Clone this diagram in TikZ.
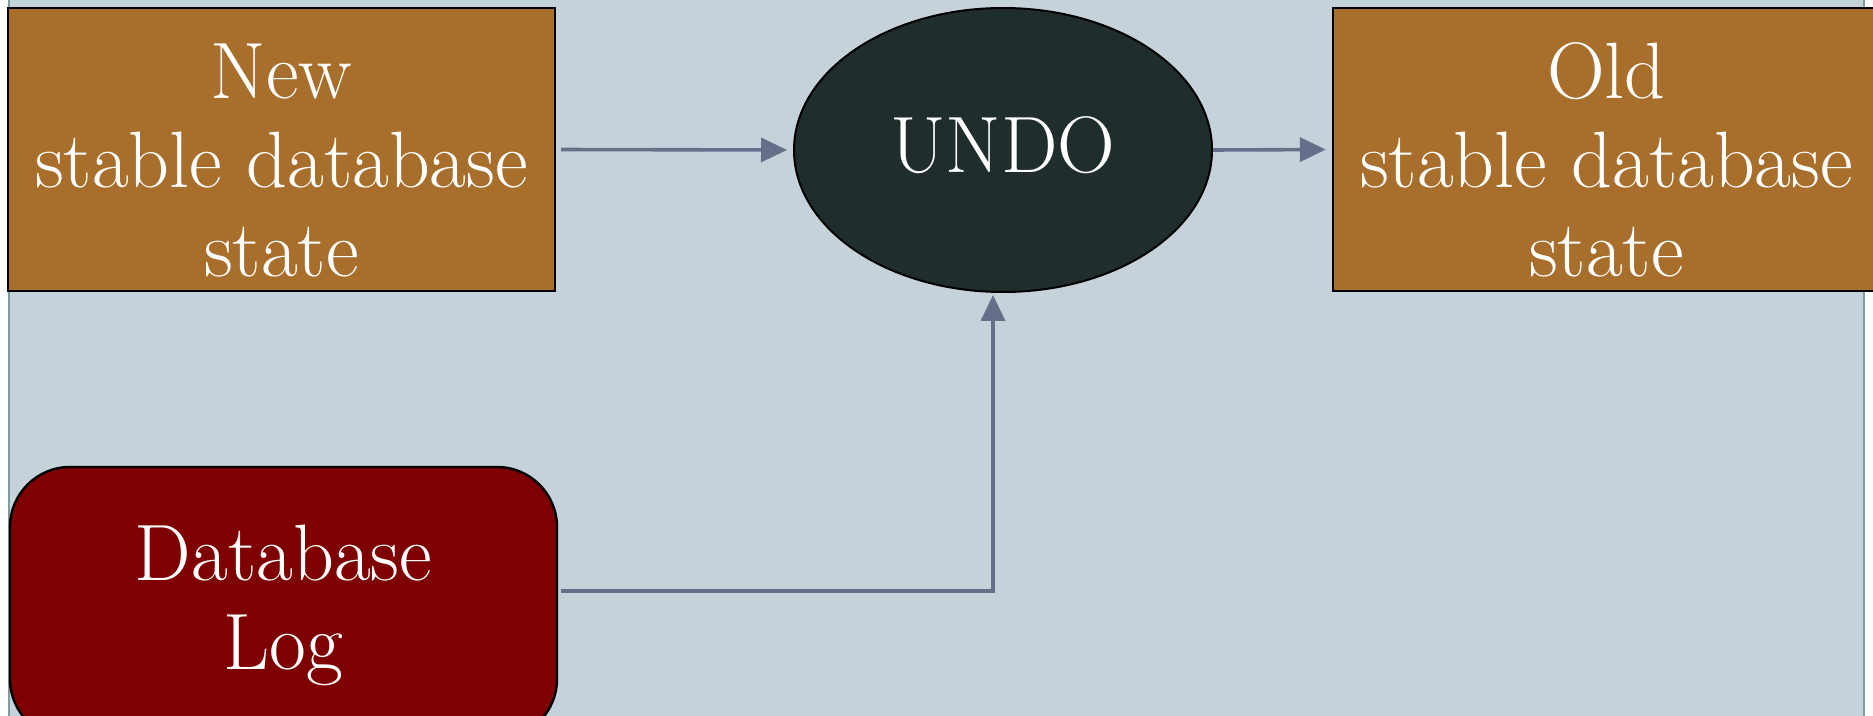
\documentclass[tikz,border=0pt]{standalone}
\usetikzlibrary{arrows.meta,shapes.geometric}

\definecolor{panel}{HTML}{C6D2D9}
\definecolor{paneledge}{HTML}{7F9DA0}
\definecolor{statebox}{HTML}{A86E2C}
\definecolor{undofill}{HTML}{202D2D}
\definecolor{logfill}{HTML}{7F0000}
\definecolor{link}{HTML}{666E8A}

\tikzset{
  bigtext/.style={font=\fontsize{40}{44.5}\selectfont},
  statenode/.style={bigtext, draw=black, line width=1.2pt, fill=statebox, text=white,
    minimum width=273.5pt, minimum height=141.5pt, align=center, inner sep=0pt,
    text height=130pt, text depth=2.5pt},
  undonode/.style={bigtext, ellipse, draw=black, line width=1pt, fill=undofill, text=white,
    minimum width=209pt, minimum height=142pt, inner sep=0pt,
    text height=27pt, text depth=4pt},
  lognode/.style={bigtext, draw=black, line width=1.2pt, fill=logfill, text=white,
    rounded corners=30pt, minimum width=273.5pt, minimum height=136pt,
    align=center, inner sep=0pt, text height=70pt, text depth=4pt},
  link/.style={draw=link, line width=1.8pt, -{Triangle[length=13pt,width=12pt]}}
}

\begin{document}
\begin{tikzpicture}[x=0.5pt,y=-0.5pt]
  \useasboundingbox (0,0) rectangle (1873,716);
  % backdrop panel
  \fill[white] (0,0) rectangle (1873,716);
  \fill[panel] (8,0) rectangle (1865,716);
  \draw[paneledge, line width=1pt] (9,0) -- (9,716);
  \draw[paneledge, line width=1pt] (1864,0) -- (1864,716);

  % nodes
  \node[statenode] (new) at (281.5,149.5) {New\\stable database\\state};
  \node[undonode] (undo) at (1003,150) {UNDO};
  \node[statenode] (old) at (1606.5,149.5) {Old\\stable database\\state};
  \node[lognode] (log) at (283.5,603) {Database\\Log};

  % connectors
  \draw[link, shorten <=2.5pt, shorten >=3pt] (new.east) -- (undo.west);
  \draw[link, shorten >=3pt] (undo.east) -- (old.west);
  \draw[link, shorten <=1.5pt, shorten >=1pt, line join=miter]
    ([yshift=6pt]log.east) -| ([xshift=-5pt]undo.south);
\end{tikzpicture}
\end{document}
